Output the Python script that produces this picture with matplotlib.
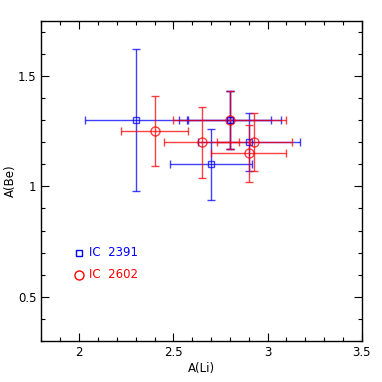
import matplotlib
matplotlib.use('Agg')
import matplotlib.pyplot as plt
from matplotlib.ticker import MultipleLocator

# IC 2391 (blue squares)
li_2391 = [2.30, 2.80, 2.80, 2.70, 2.90]
be_2391 = [1.30, 1.30, 1.30, 1.10, 1.20]
li_err_2391 = [0.27, 0.27, 0.22, 0.22, 0.27]
be_err_2391 = [0.32, 0.13, 0.13, 0.16, 0.13]

# IC 2602 (red circles)
li_2602 = [2.40, 2.65, 2.80, 2.93, 2.90]
be_2602 = [1.25, 1.20, 1.30, 1.20, 1.15]
li_err_2602 = [0.18, 0.20, 0.30, 0.20, 0.20]
be_err_2602 = [0.16, 0.16, 0.13, 0.13, 0.13]

plt.rcParams['font.family'] = ['DejaVu Sans']

fig = plt.figure(figsize=(3.82, 3.82), dpi=100)
ax = fig.add_axes([0.1086, 0.1073, 0.8383, 0.8385])

ax.errorbar(li_2391, be_2391, xerr=li_err_2391, yerr=be_err_2391,
            fmt='s', color='blue', mfc='none', ms=4.5, mew=1.0,
            elinewidth=1.0, capsize=3, capthick=1.0, alpha=0.75)
ax.errorbar(li_2602, be_2602, xerr=li_err_2602, yerr=be_err_2602,
            fmt='o', color='red', mfc='none', ms=6.5, mew=1.0,
            elinewidth=1.0, capsize=3, capthick=1.0, alpha=0.75)

# legend drawn as in the original, markers plus coloured text
ax.plot([2.0], [0.70], 's', color='blue', mfc='none', ms=4.5, mew=1.0)
ax.text(2.05, 0.70, 'IC  2391', color='blue', fontsize=8.5, va='center')
ax.plot([2.0], [0.60], 'o', color='red', mfc='none', ms=6.5, mew=1.0)
ax.text(2.05, 0.60, 'IC  2602', color='red', fontsize=8.5, va='center')

ax.set_xlim(1.8, 3.5)
ax.set_ylim(0.3, 1.75)
ax.xaxis.set_minor_locator(MultipleLocator(0.1))
ax.yaxis.set_minor_locator(MultipleLocator(0.1))
ax.set_xticks([2, 2.5, 3, 3.5])
ax.set_xticklabels(['2', '2.5', '3', '3.5'])
ax.set_yticks([0.5, 1, 1.5])
ax.set_yticklabels(['0.5', '1', '1.5'])
ax.tick_params(which='both', direction='in', top=True, right=True, labelsize=8.5, width=0.8)
ax.tick_params(which='major', length=6)
ax.tick_params(which='minor', length=3)
for s in ax.spines.values():
    s.set_linewidth(1.0)

ax.set_xlabel('A(Li)', fontsize=8.5, labelpad=2)
ax.set_ylabel('A(Be)', fontsize=8.5, labelpad=1)

fig.savefig('out.png', dpi=100)
